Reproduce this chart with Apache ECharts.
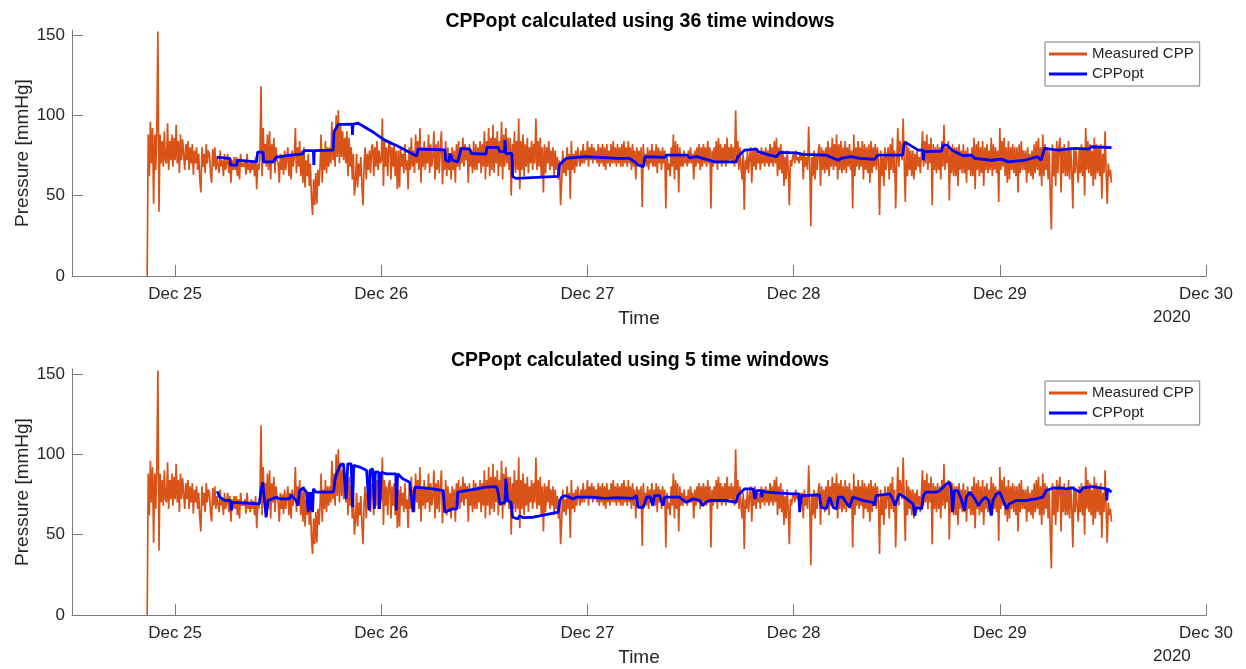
<!DOCTYPE html>
<html>
<head>
<meta charset="utf-8">
<script src="https://cdn.jsdelivr.net/npm/echarts@6/dist/echarts.min.js"></script>
<style>
html,body{margin:0;padding:0;background:#fff;}
#chart{width:1246px;height:669px;}
</style>
</head>
<body>
<div id="chart"></div>
<script>
// ---------------- DATA ----------------
const titles = ['CPPopt calculated using 36 time windows', 'CPPopt calculated using 5 time windows'];
const seriesNames = ['Measured CPP', 'CPPopt'];
const xTickDays = [25, 26, 27, 28, 29, 30];           // December 2020
const xTickLabels = ['Dec 25', 'Dec 26', 'Dec 27', 'Dec 28', 'Dec 29', 'Dec 30'];
const yTicks = [0, 50, 100, 150];
const yearLabel = '2020';

// Time is counted in hours from Dec 24 12:00.
// Measured CPP: first sample at Dec 24 20:45, one sample every 7.5 min (8 per row = 1 hour)
const cppStartHour = 8.75;
const cppStepHours = 0.125;
const measuredCPP = [
  0, 88,
  62, 96, 70, 92, 45, 88, 66, 93,      // h 9
  152, 40, 88, 70, 84, 68, 90, 72,
  70, 95, 66, 84, 72, 88, 68, 86,
  72, 94, 70, 84, 64, 88, 72, 85,
  86, 66, 82, 72, 84, 66, 80, 70,
  82, 63, 78, 70, 80, 66, 76, 60,
  52, 80, 68, 76, 64, 82, 70, 78,
  76, 64, 58, 79, 68, 80, 66, 74,
  74, 64, 78, 68, 72, 62, 76, 66,
  70, 76, 64, 74, 58, 72, 66, 74,
  66, 74, 62, 72, 60, 76, 68, 70,
  68, 72, 63, 76, 66, 70, 64, 72,
  66, 71, 62, 74, 54, 70, 66, 74,
  118, 62, 92, 70, 82, 68, 88, 66,     // h 22
  90, 60, 82, 70, 86, 64, 80, 72,
  70, 58, 76, 66, 75, 63, 78, 66,
  66, 80, 62, 76, 60, 78, 68, 74,
  92, 64, 80, 68, 84, 62, 78, 58,
  80, 55, 72, 62, 76, 56, 70, 48,
  38, 60, 44, 64, 45, 66, 56, 68,
  88, 58, 78, 66, 84, 64, 80, 68,
  80, 70, 96, 72, 88, 68, 100, 74,
  103, 70, 95, 74, 90, 72, 86, 70,
  90, 62, 86, 68, 80, 60, 76, 50,
  58, 76, 55, 70, 62, 74, 56, 44,
  70, 80, 60, 76, 66, 78, 64, 80,
  82, 62, 80, 68, 84, 66, 78, 70,
  72, 98, 56, 84, 68, 80, 62, 82,      // h 36
  84, 60, 80, 68, 82, 62, 78, 54,
  78, 55, 80, 68, 76, 64, 82, 66,
  72, 54, 80, 66, 86, 68, 78, 64,
  88, 70, 84, 66, 92, 58, 80, 68,
  84, 66, 80, 70, 88, 64, 82, 68,
  74, 90, 60, 82, 66, 84, 64, 80,
  90, 57, 78, 66, 84, 62, 80, 66,
  76, 60, 80, 66, 78, 58, 82, 68,
  84, 66, 80, 70, 86, 68, 82, 72,
  80, 58, 82, 68, 78, 64, 84, 66,
  82, 66, 80, 70, 84, 64, 82, 68,
  90, 60, 84, 68, 92, 62, 86, 66,      // h 48
  94, 64, 86, 70, 90, 62, 84, 68,
  96, 60, 88, 68, 92, 70, 86, 66,
  86, 50, 82, 66, 90, 64, 84, 66,
  98, 54, 84, 66, 88, 62, 82, 68,
  86, 64, 80, 70, 84, 66, 82, 70,
  98, 66, 84, 68, 86, 62, 80, 52,
  82, 64, 80, 70, 84, 66, 78, 68,
  80, 62, 78, 66, 74, 60, 72, 44,
  58, 78, 64, 72, 62, 80, 66, 76,
  48, 84, 66, 76, 64, 78, 68, 80,
  80, 68, 78, 70, 82, 70, 78, 72,
  84, 68, 80, 72, 82, 70, 80, 72,      // h 60
  78, 70, 82, 68, 80, 70, 82, 68,
  80, 66, 82, 70, 78, 68, 82, 70,
  84, 70, 80, 68, 82, 70, 80, 68,
  82, 68, 84, 70, 80, 68, 84, 70,
  80, 66, 82, 68, 78, 60, 80, 70,
  78, 68, 80, 43, 82, 70, 76, 68,
  80, 66, 78, 70, 82, 68, 78, 68,
  82, 64, 80, 70, 78, 66, 80, 70,
  78, 42, 76, 66, 70, 62, 80, 68,
  88, 60, 84, 66, 82, 52, 80, 68,
  76, 68, 78, 70, 74, 68, 78, 70,
  80, 70, 76, 60, 78, 68, 80, 70,      // h 72
  82, 66, 80, 68, 82, 70, 80, 68,
  84, 70, 80, 42, 78, 68, 80, 70,
  84, 66, 86, 70, 82, 68, 80, 70,
  82, 68, 86, 70, 80, 72, 82, 70,
  80, 68, 103, 70, 84, 66, 80, 68,
  60, 76, 41, 72, 66, 78, 64, 74,
  80, 58, 78, 68, 80, 66, 78, 70,
  76, 66, 80, 70, 78, 68, 80, 70,
  78, 68, 82, 70, 80, 68, 84, 70,
  86, 62, 80, 66, 82, 64, 78, 56,
  74, 60, 78, 66, 44, 72, 68, 74,
  76, 70, 78, 72, 74, 70, 76, 72,      // h 84
  76, 60, 78, 68, 74, 66, 93, 70,
  31, 74, 62, 78, 60, 76, 66, 78,
  82, 56, 80, 66, 78, 64, 80, 66,
  84, 62, 80, 68, 86, 66, 82, 68,
  88, 60, 82, 66, 84, 64, 80, 66,
  84, 64, 80, 68, 82, 66, 78, 42,
  88, 62, 80, 68, 84, 66, 80, 68,
  84, 60, 82, 66, 80, 64, 82, 58,
  84, 64, 80, 68, 82, 66, 80, 70,
  38, 78, 62, 74, 56, 80, 66, 74,
  80, 60, 82, 66, 86, 64, 78, 42,
  70, 92, 68, 84, 80, 72, 98, 70,      // h 96
  46, 84, 62, 80, 66, 78, 62, 78,
  60, 76, 66, 78, 68, 74, 64, 76,
  90, 68, 84, 70, 88, 66, 82, 70,
  86, 44, 82, 66, 80, 64, 82, 66,
  80, 60, 84, 68, 94, 66, 80, 70,
  84, 47, 78, 64, 82, 62, 80, 62,
  80, 56, 82, 66, 78, 64, 82, 64,
  78, 58, 80, 66, 76, 62, 80, 62,
  86, 54, 82, 66, 84, 62, 80, 64,
  84, 56, 80, 66, 82, 64, 78, 66,
  86, 62, 82, 66, 80, 64, 78, 46,
  92, 66, 84, 68, 86, 62, 80, 58,      // h 108
  84, 60, 80, 66, 82, 64, 80, 62,
  80, 52, 82, 64, 84, 66, 78, 66,
  78, 58, 80, 64, 76, 62, 78, 60,
  82, 64, 84, 66, 86, 62, 80, 56,
  88, 62, 82, 66, 80, 60, 78, 50,
  29, 82, 62, 78, 56, 84, 64, 80,
  86, 52, 80, 64, 82, 62, 78, 62,
  84, 60, 80, 66, 42, 80, 64, 78,
  78, 58, 80, 64, 82, 62, 80, 50,
  92, 66, 84, 64, 82, 62, 78, 56,
  86, 60, 82, 64, 80, 62, 82, 48,
  76, 64, 90, 66, 45, 70, 62, 66,      // h 120
  58
];

// CPPopt, 36 time windows (hours from Dec 24 12:00, value)
const optTopHours = [16.85,18.4,18.45,19.2,19.25,21.5,21.6,22.25,22.3,23.4,23.8,25.3,26.9,27.0,28.1,28.15,28.2,30.4,30.5,31.0,
  32.6,32.65,32.7,33.3,35.0,36.4,38.0,40.1,40.3,43.4,43.5,43.9,44.0,44.3,44.9,45.3,46.3,46.5,48.2,48.3,
  49.6,49.8,50.35,50.4,50.5,51.2,51.3,51.7,56.6,56.75,57.1,57.5,59.7,63.6,64.9,65.5,65.9,66.5,66.7,69.0,
  69.2,71.6,71.9,72.7,73.4,74.2,74.8,77.3,77.5,78.3,79.7,79.85,81.2,82.0,82.4,84.3,85.1,87.8,88.2,89.2,
  89.5,90.7,91.7,93.4,93.8,96.7,96.8,96.9,97.2,98.5,99.05,99.1,99.2,101.2,101.4,101.9,102.4,103.7,104.7,105.1,
  107.0,108.2,109.0,110.9,112.4,112.8,113.2,114.8,116.7,118.3,118.7,121.0];
const optTopValues = [74,73,69,69,72,71,77,77,71,71,74,75,76,78,78,69,78,78.3,89.7,94.3,
  94.5,87.7,94.5,95,89.7,84.5,80.5,74.6,78.9,78.5,72,71,76.2,72,71,79.4,78.9,76.2,75.8,80,
  80,77.3,77.3,84.5,76.2,76.2,61.7,60.7,62,69,71,73.1,74.2,73.1,73.1,71,69,68,74.2,73.8,
  75.2,75.2,73.5,74.2,73.1,72,71,71,74.2,78.3,78.9,77.3,75.2,74.2,76.9,76.6,75.6,75.2,74.2,72,
  73.1,74.2,73.1,72.5,75.2,75.2,74.2,83.1,82.5,78.3,78.3,72,77.3,77.7,81.4,81.4,78.3,74.8,75.2,73.1,
  72,72.7,71,72,74.2,72,79.4,78.3,79.4,78.9,80.4,79.8];

// CPPopt, 5 time windows (hours from Dec 24 12:00, value)
const optBottomHours = [16.9,17.2,17.8,18.45,18.55,18.65,20.7,21.8,22.0,22.2,22.4,22.6,22.8,23.8,24.2,25.3,25.5,26.1,26.3,26.5,
  26.9,27.3,27.5,27.6,27.8,27.9,28.0,28.1,28.4,30.4,30.5,30.6,30.8,31.2,31.6,31.9,32.1,32.5,32.65,32.8,
  33.5,34.3,34.6,34.7,35.0,35.2,35.3,35.7,35.8,36.0,36.6,37.7,37.75,37.9,38.5,38.9,39.3,39.7,39.9,40.1,
  42.0,43.2,43.4,44.3,44.8,44.9,45.9,47.1,48.2,49.4,49.6,49.8,50.0,50.4,50.5,50.7,51.1,51.3,51.9,52.1,
  52.5,53.7,55.6,56.6,56.8,57.0,57.5,57.9,58.3,58.7,60.5,62.0,63.5,65.3,65.7,65.9,66.5,66.9,67.3,67.6,
  67.8,68.4,68.8,69.0,70.7,71.5,72.3,73.1,73.4,73.8,74.2,76.2,77.3,77.5,78.3,79.3,79.5,79.7,80.2,80.3,
  80.4,80.8,82.4,83.9,84.6,84.7,84.9,87.0,87.2,87.8,88.2,88.6,89.0,89.2,89.7,90.1,90.5,90.9,92.1,93.2,
  93.4,93.6,95.2,95.6,95.8,96.0,96.3,96.9,97.9,98.1,98.3,98.9,99.1,99.4,100.6,101.0,101.4,101.8,102.2,102.4,
  102.5,102.7,103.1,103.5,103.9,104.1,104.5,105.1,105.5,105.9,106.3,106.7,107.0,107.2,107.6,108.0,108.4,108.8,109.1,109.9,
  111.0,112.2,113.0,113.4,114.2,115.0,115.7,116.5,117.3,117.7,118.8,120.4,120.45,120.55,121.0];
const optBottomValues = [77,73.3,71.2,71.2,65,70.1,69.5,69.1,77.4,82.6,71.2,60.8,71.2,73.3,72.2,72.2,74.7,71.2,68,77.4,
  79,76.4,64,76.4,65,76.4,64,78.5,76.4,76.4,78.5,83.7,87.8,93,94,72.2,94,94,67,93,
  92,89.9,65,89.9,91,66,89,88.8,66,88.8,87.8,87.8,65,87.8,84.7,83.7,82.6,64,79.5,79.1,
  78.5,77.4,64,66,66,76.4,77.4,78.5,79.5,79.9,76.4,69.1,70.1,70.1,84.7,71.2,70.1,60.8,59.8,61.8,
  60.5,60.8,62.9,64,71.2,73.3,74.3,73.3,72.2,73.3,73.3,72.5,73.0,72.5,74.3,67,67,73.3,73.6,68,
  74.3,74.3,68,73.3,73.3,70.1,72.2,71.2,68,70.1,71.2,71.2,70.1,74.3,78.5,78.5,72.2,77.4,77.4,73.3,
  77.4,76.4,75.8,75.3,75.3,64,74.3,74.7,67,66,73.3,67,66,73.3,73.3,70.1,67,73.3,71.2,70.1,
  68,74.3,75.3,71.2,68,71.2,75.3,73.3,69.1,61.8,67,66,74.3,76.4,76.4,77.4,79.5,81.6,82.6,75.3,
  64,77.4,77.4,72.2,65,73.3,76.4,72.2,68,71.2,73.3,71.2,61.8,71.2,75.3,76.4,71.2,66,69.1,71.2,
  71.2,72.2,73.3,77.4,79,79,78.5,79,76.4,79,79.9,78.5,71.2,78.5,76.4];

// ---------------- BUILD ----------------
// x values are hours counted from Dec 24 12:00 (2020)
const tickHours = xTickDays.map(d => (d - 24) * 24 - 12);
const xMin = 0;
const xMax = tickHours[tickHours.length - 1];
const cppData = measuredCPP.map((v, i) => [cppStartHour + i * cppStepHours, v]);
const optTopData = optTopHours.map((h, i) => [h, optTopValues[i]]);
const optBottomData = optBottomHours.map((h, i) => [h, optBottomValues[i]]);

const ORANGE = '#D95319';
const BLUE = '#0000FF';
const TXT = '#262626';
const AX = '#7a7a7a';
const FONT = 'Liberation Sans, Arial, Helvetica, sans-serif';

const GL = 72, GW = 1134, GH = 246;
const gridTops = [30, 369];

function xAxisFor(i) {
  return {
    type: 'value', gridIndex: i, min: xMin, max: xMax,
    name: 'Time', nameLocation: 'middle', nameGap: 33, nameMoveOverlap: false,
    nameTextStyle: { color: TXT, fontSize: 19, fontFamily: FONT },
    axisLine: { show: true, onZero: false, lineStyle: { color: AX, width: 1 } },
    axisTick: { show: true, inside: true, length: 11, lineStyle: { color: AX }, customValues: tickHours },
    axisLabel: {
      color: TXT, fontSize: 17, fontFamily: FONT, margin: 10, customValues: tickHours,
      showMinLabel: true, showMaxLabel: true,
      formatter: v => { const k = tickHours.indexOf(v); return k >= 0 ? xTickLabels[k] : ''; }
    },
    splitLine: { show: false }
  };
}
function yAxisFor(i) {
  return {
    type: 'value', gridIndex: i, min: 0, max: 153,
    name: 'Pressure [mmHg]', nameLocation: 'middle', nameGap: 40, nameMoveOverlap: false,
    nameTextStyle: { color: TXT, fontSize: 19, fontFamily: FONT },
    axisLine: { show: true, onZero: false, lineStyle: { color: AX, width: 1 } },
    axisTick: { show: true, inside: true, length: 11, lineStyle: { color: AX }, customValues: yTicks },
    axisLabel: { color: TXT, fontSize: 17, fontFamily: FONT, margin: 7, customValues: yTicks },
    splitLine: { show: false }
  };
}
function legendFor(i) {
  return {
    orient: 'vertical', left: 1045, top: gridTops[i] + 12,
    padding: [3, 6, 3, 4], itemGap: 2, itemWidth: 38, itemHeight: 3, itemTextGap: 4,
    icon: 'rect', borderColor: '#7a7a7a', borderWidth: 1, backgroundColor: '#fff',
    textStyle: { color: TXT, fontSize: 15, fontFamily: FONT, lineHeight: 18 },
    data: seriesNames, selectedMode: false
  };
}

const option = {
  animation: false,
  backgroundColor: '#fff',
  title: titles.map((t, i) => ({
    text: t, left: GL + GW / 2 - 4, top: gridTops[i] - 23, textAlign: 'center',
    textStyle: { color: '#000', fontSize: 19.5, fontWeight: 'bold', fontFamily: FONT }
  })),
  grid: gridTops.map(t => ({ left: GL, top: t, width: GW, height: GH, containLabel: false })),
  xAxis: [xAxisFor(0), xAxisFor(1)],
  yAxis: [yAxisFor(0), yAxisFor(1)],
  legend: [legendFor(0), legendFor(1)],
  graphic: gridTops.map(t => ({
    type: 'text', left: 1153, top: t + GH + 33,
    style: { text: yearLabel, fill: TXT, fontSize: 17, fontFamily: FONT }
  })),
  series: [
    { name: seriesNames[0], type: 'line', xAxisIndex: 0, yAxisIndex: 0, data: cppData, showSymbol: false,
      lineStyle: { color: ORANGE, width: 1.7 }, itemStyle: { color: ORANGE }, z: 2 },
    { name: seriesNames[1], type: 'line', xAxisIndex: 0, yAxisIndex: 0, data: optTopData, showSymbol: false,
      lineStyle: { color: BLUE, width: 2.8 }, itemStyle: { color: BLUE }, z: 3 },
    { name: seriesNames[0], type: 'line', xAxisIndex: 1, yAxisIndex: 1, data: cppData, showSymbol: false,
      lineStyle: { color: ORANGE, width: 1.7 }, itemStyle: { color: ORANGE }, z: 2 },
    { name: seriesNames[1], type: 'line', xAxisIndex: 1, yAxisIndex: 1, data: optBottomData, showSymbol: false,
      lineStyle: { color: BLUE, width: 2.8 }, itemStyle: { color: BLUE }, z: 3 }
  ]
};

const chart = echarts.init(document.getElementById('chart'), null, { renderer: 'canvas' });
chart.setOption(option);
</script>
</body>
</html>
